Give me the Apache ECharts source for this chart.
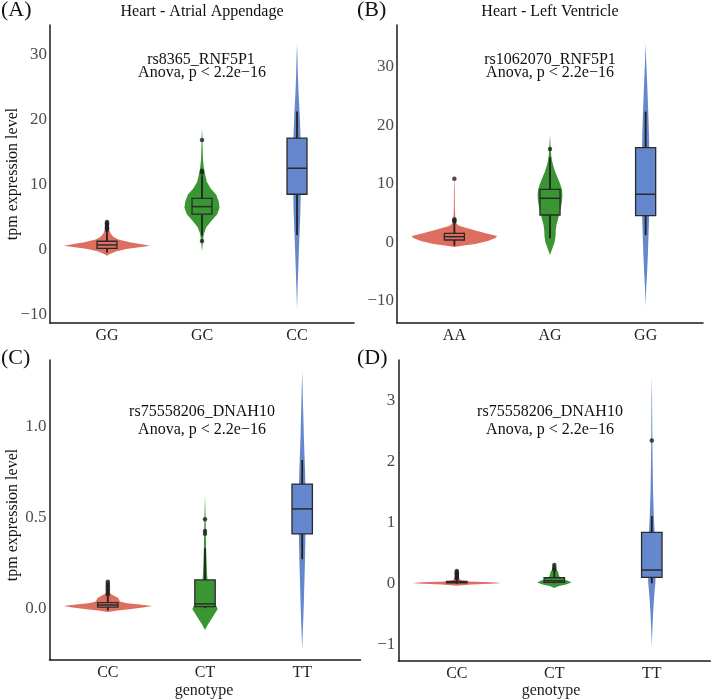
<!DOCTYPE html>
<html>
<head>
<meta charset="utf-8">
<script src="https://cdn.jsdelivr.net/npm/echarts@6/dist/echarts.min.js"></script>
<style>html,body{margin:0;padding:0;background:#fff}#main{width:712px;height:700px}</style>
</head>
<body>
<div id="main"></div>
<script>
var FONT = '"Liberation Serif", "DejaVu Serif", serif';
var colors = ['#DE6E5F', '#3A9632', '#6487CD'];

var titles = ['Heart - Atrial Appendage', 'Heart - Left Ventricle'];
var tags = ['(A)', '(B)', '(C)', '(D)'];
var snps = ['rs8365_RNF5P1', 'rs1062070_RNF5P1', 'rs75558206_DNAH10', 'rs75558206_DNAH10'];
var pText = 'Anova, p < 2.2e\u221216';

var genoA = ['GG', 'GC', 'CC'];
var genoB = ['AA', 'AG', 'GG'];
var genoC = ['CC', 'CT', 'TT'];
var genoD = ['CC', 'CT', 'TT'];

var ticksA = [-10, 0, 10, 20, 30];
var ticksB = [-10, 0, 10, 20, 30];
var ticksC = [0, 0.5, 1];
var ticksD = [-1, 0, 1, 2, 3];

// box = [lower whisker, Q1, median, Q3, upper whisker]
var boxA = [[-0.4, 0.26, 0.77, 1.34, 2.9], [2.2, 5.5, 6.67, 7.95, 11.5], [2.3, 8.57, 12.57, 17.2, 21.3]];
var boxB = [[-0.6, 0.38, 0.94, 1.52, 3.2], [0.67, 4.65, 7.5, 9.04, 14.5], [1.2, 4.53, 8.19, 16.15, 22.3]];
var boxC = [[-0.012, 0.006, 0.018, 0.031, 0.068], [0.0, 0.009, 0.024, 0.156, 0.33], [0.27, 0.409, 0.547, 0.684, 0.817]];
var boxD = [[-0.01, 0.008, 0.018, 0.032, 0.065], [0.0, 0.015, 0.04, 0.09, 0.2], [0.0, 0.097, 0.216, 0.834, 1.1]];

// outlier points per genotype
var outA = [[3.1, 3.3, 3.5, 3.7, 3.9, 4.1, 4.3], [1.4, 11.9, 12.2, 16.9], []];
var outB = [[3.5, 3.7, 3.9, 10.85], [15.9], []];
var outC = [[0.075, 0.085, 0.095, 0.105, 0.115, 0.125, 0.135, 0.146], [0.41, 0.426, 0.49], []];
var outD = [[0.08, 0.1, 0.12, 0.14, 0.16, 0.18, 0.2], [0.22, 0.26, 0.3], [2.34]];

// violin outlines: [value, half width in category units]
var violinA = [
  [[-0.9, 0], [-0.6, 0.03], [-0.2, 0.1], [0.2, 0.22], [0.5, 0.38], [0.66, 0.455], [0.85, 0.38], [1.2, 0.24], [1.6, 0.12], [2.0, 0.07], [2.5, 0.04], [3.0, 0.025], [3.6, 0.015], [4.2, 0.008], [4.6, 0]],
  [[-0.2, 0], [0.5, 0.005], [1.5, 0.01], [2.5, 0.02], [3.5, 0.045], [4.5, 0.1], [5.5, 0.16], [6.5, 0.185], [7.5, 0.175], [8.5, 0.15], [9.5, 0.09], [10.5, 0.05], [11.5, 0.035], [12.5, 0.02], [14, 0.01], [16, 0.006], [17.5, 0.004], [18.6, 0]],
  [[-9.2, 0], [-6, 0.006], [-3, 0.013], [0, 0.02], [3, 0.028], [6, 0.036], [9, 0.04], [12, 0.042], [15, 0.04], [18, 0.036], [21, 0.028], [24, 0.017], [27, 0.009], [30, 0.004], [31.8, 0]]
];
var violinB = [
  [[-0.8, 0], [-0.6, 0.08], [-0.3, 0.22], [0.2, 0.35], [0.7, 0.43], [1.06, 0.446], [1.5, 0.34], [2.0, 0.22], [2.5, 0.11], [2.8, 0.05], [3.2, 0.02], [4, 0.01], [6, 0.005], [9, 0.004], [11.3, 0]],
  [[-2.2, 0], [-1.5, 0.015], [-0.8, 0.03], [0, 0.048], [1, 0.058], [2, 0.06], [3, 0.068], [4, 0.085], [5, 0.1], [6, 0.115], [7, 0.125], [8, 0.13], [9, 0.125], [10, 0.105], [11, 0.08], [12, 0.055], [13, 0.035], [14, 0.02], [15, 0.012], [16.5, 0.006], [18.3, 0]],
  [[-11, 0], [-8, 0.006], [-5, 0.016], [-2, 0.024], [1, 0.03], [4, 0.036], [7, 0.04], [10, 0.042], [13, 0.04], [16, 0.038], [19, 0.034], [22, 0.028], [25, 0.021], [28, 0.014], [31, 0.006], [34, 0]]
];
var violinC = [
  [[-0.02, 0], [-0.012, 0.1], [-0.005, 0.22], [0.005, 0.38], [0.0127, 0.455], [0.02, 0.33], [0.028, 0.2], [0.036, 0.13], [0.045, 0.115], [0.055, 0.11], [0.065, 0.08], [0.075, 0.04], [0.085, 0.015], [0.1, 0.008], [0.12, 0.005], [0.15, 0]],
  [[-0.12, 0], [-0.09, 0.03], [-0.06, 0.065], [-0.03, 0.1], [-0.005, 0.13], [0.01, 0.12], [0.03, 0.09], [0.05, 0.06], [0.08, 0.04], [0.12, 0.03], [0.16, 0.025], [0.2, 0.02], [0.26, 0.016], [0.32, 0.012], [0.4, 0.009], [0.5, 0.006], [0.62, 0]],
  [[-0.23, 0], [-0.15, 0.005], [-0.05, 0.012], [0.05, 0.018], [0.15, 0.023], [0.25, 0.028], [0.35, 0.032], [0.45, 0.035], [0.55, 0.036], [0.65, 0.034], [0.75, 0.03], [0.85, 0.023], [0.95, 0.017], [1.05, 0.012], [1.15, 0.007], [1.31, 0]]
];
var violinD = [
  [[-0.04, 0], [-0.02, 0.15], [-0.005, 0.4], [0.005, 0.455], [0.015, 0.35], [0.03, 0.12], [0.05, 0.04], [0.08, 0.02], [0.12, 0.012], [0.16, 0.008], [0.21, 0]],
  [[-0.08, 0], [-0.05, 0.04], [-0.02, 0.12], [0.01, 0.175], [0.04, 0.14], [0.07, 0.08], [0.1, 0.055], [0.14, 0.045], [0.18, 0.04], [0.22, 0.025], [0.27, 0.012], [0.33, 0]],
  [[-1.04, 0], [-0.8, 0.005], [-0.5, 0.013], [-0.2, 0.025], [0, 0.036], [0.2, 0.042], [0.5, 0.038], [0.8, 0.03], [1.1, 0.021], [1.5, 0.013], [2, 0.008], [2.5, 0.005], [3, 0.003], [3.41, 0]]
];

var panels = [
  {geno: genoA, ticks: ticksA, box: boxA, out: outA, violin: violinA, yMin: -11.23, yMax: 34.6, dec: 0},
  {geno: genoB, ticks: ticksB, box: boxB, out: outB, violin: violinB, yMin: -13.8, yMax: 37.1, dec: 0},
  {geno: genoC, ticks: ticksC, box: boxC, out: outC, violin: violinC, yMin: -0.285, yMax: 1.367, dec: 1},
  {geno: genoD, ticks: ticksD, box: boxD, out: outD, violin: violinD, yMin: -1.275, yMax: 3.66, dec: 0}
];

var grids = [
  {left: 50, top: 25, width: 304, height: 298},
  {left: 397, top: 25, width: 306, height: 298},
  {left: 49.5, top: 360, width: 311, height: 300},
  {left: 398.3, top: 360, width: 312, height: 301}
];

var BOX_HALF = 0.105;

function fmtTick(v, dec)
{
  var s = v.toFixed(dec);
  return s.replace('-', '\u2212');
}

//violin outline drawn from its profile through the axis scales
function violinRenderer(profiles)
{
  return function (params, api) {
    var prof = profiles[params.dataIndex];
    var cx = api.value(0);
    var pts = [];
    var i;
    for (i = 0; i < prof.length; i++) pts.push(api.coord([cx + prof[i][1], prof[i][0]]));
    for (i = prof.length - 1; i >= 0; i--) pts.push(api.coord([cx - prof[i][1], prof[i][0]]));
    return {
      type: 'polygon',
      shape: {points: pts},
      style: {fill: colors[params.dataIndex], stroke: null}
    };
  };
}

function renderBox(params, api)
{
  var x = api.value(0);
  var lo = api.coord([x, api.value(1)]);
  var hi = api.coord([x, api.value(5)]);
  var q1 = api.coord([x - BOX_HALF, api.value(2)]);
  var q3 = api.coord([x + BOX_HALF, api.value(4)]);
  var medL = api.coord([x - BOX_HALF, api.value(3)]);
  var medR = api.coord([x + BOX_HALF, api.value(3)]);
  var line = {stroke: '#222', lineWidth: 1.8};
  return {
    type: 'group',
    children: [
      {type: 'line', shape: {x1: lo[0], y1: lo[1], x2: lo[0], y2: q1[1]}, style: line},
      {type: 'line', shape: {x1: hi[0], y1: hi[1], x2: hi[0], y2: q3[1]}, style: line},
      {type: 'rect', shape: {x: q1[0], y: q3[1], width: q3[0] - q1[0], height: q1[1] - q3[1]},
        style: {fill: colors[params.dataIndex], stroke: '#2a2a2a', lineWidth: 1.3}},
      {type: 'line', shape: {x1: medL[0], y1: medL[1], x2: medR[0], y2: medR[1]}, style: {stroke: '#2a2a2a', lineWidth: 1.5}}
    ]
  };
}

var xAxes = [], yAxes = [], series = [];
panels.forEach(function (p, k) {
  xAxes.push({
    type: 'value', gridIndex: k, min: 0.4, max: 3.6,
    splitLine: {show: false}, axisTick: {show: false},
    axisLine: {onZero: false, lineStyle: {color: '#1a1a1a', width: 1.5}},
    axisLabel: {
      customValues: [1, 2, 3], margin: 5,
      fontFamily: FONT, fontSize: 16, color: '#222',
      formatter: function (v) { return p.geno[Math.round(v) - 1]; }
    }
  });
  yAxes.push({
    type: 'value', gridIndex: k, min: p.yMin, max: p.yMax,
    splitLine: {show: false}, axisTick: {show: false},
    axisLine: {show: true, onZero: false, lineStyle: {color: '#1a1a1a', width: 1.5}},
    axisLabel: {
      customValues: p.ticks, margin: 3,
      fontFamily: FONT, fontSize: 17, color: '#4d4d4d',
      formatter: function (v) { return fmtTick(v, p.dec); }
    }
  });
  var vData = [], bData = [], oData = [];
  for (var g = 0; g < 3; g++) {
    vData.push([g + 1, p.box[g][2]]);
    bData.push([g + 1].concat(p.box[g]));
    p.out[g].forEach(function (v) { oData.push([g + 1, v]); });
  }
  series.push({
    type: 'custom', xAxisIndex: k, yAxisIndex: k, silent: true,
    renderItem: violinRenderer(p.violin), data: vData, z: 1
  });
  series.push({
    type: 'custom', xAxisIndex: k, yAxisIndex: k, silent: true,
    encode: {x: 0, y: [1, 2, 3, 4, 5]},
    renderItem: renderBox, data: bData, z: 2
  });
  series.push({
    type: 'scatter', xAxisIndex: k, yAxisIndex: k, silent: true,
    symbolSize: 4.5, itemStyle: {color: '#1f1f1f'}, data: oData, z: 3
  });
});

function txt(x, y, s, size, color, rot)
{
  return {
    type: 'text', x: x, y: y, rotation: rot || 0, silent: true,
    style: {text: s, fontFamily: FONT, fontSize: size, fill: color || '#111',
      align: 'center', verticalAlign: 'middle'}
  };
}

var graphics = [
  {type: 'text', left: 1, top: -1, style: {text: tags[0], fontFamily: FONT, fontSize: 22, fill: '#111'}},
  {type: 'text', left: 357, top: -1, style: {text: tags[1], fontFamily: FONT, fontSize: 22, fill: '#111'}},
  {type: 'text', left: 1, top: 347, style: {text: tags[2], fontFamily: FONT, fontSize: 22, fill: '#111'}},
  {type: 'text', left: 357, top: 347, style: {text: tags[3], fontFamily: FONT, fontSize: 22, fill: '#111'}},
  txt(202, 12, titles[0], 16, '#111'),
  txt(550, 12, titles[1], 16, '#111'),
  txt(201, 59.5, snps[0], 16),
  txt(202, 72.5, pText, 16),
  txt(550, 60, snps[1], 16),
  txt(550, 73, pText, 16),
  txt(202, 411.5, snps[2], 16),
  txt(202, 430, pText, 16),
  txt(550, 411.5, snps[3], 16),
  txt(550, 430, pText, 16),
  txt(13, 174, 'tpm expression level', 16, '#111', Math.PI / 2),
  txt(13, 515, 'tpm expression level', 16, '#111', Math.PI / 2),
  txt(204, 691, 'genotype', 16, '#222'),
  txt(551, 691, 'genotype', 16, '#222')
];

var myChart = echarts.init(document.getElementById('main'));
myChart.setOption({
  animation: false,
  backgroundColor: '#fff',
  grid: grids,
  xAxis: xAxes,
  yAxis: yAxes,
  series: series,
  graphic: graphics
});
</script>
</body>
</html>
